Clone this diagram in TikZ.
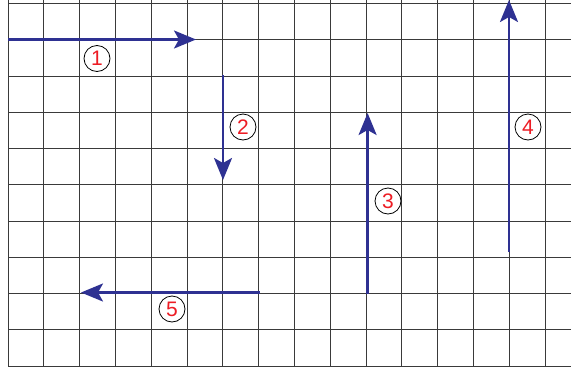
\documentclass[tikz,border=0pt]{standalone}
\usepackage{fontspec}
\setmainfont{Liberation Sans}
\usetikzlibrary{arrows.meta}
\definecolor{arrowblue}{HTML}{2E3192}
\definecolor{gridc}{HTML}{3A3A3A}
\definecolor{labred}{HTML}{ED1C24}
\tikzset{
  gridline/.style={draw=gridc, line width=0.9pt},
  movearrow/.style={draw=arrowblue, line width=2.6pt,
    -{Stealth[length=22pt, width=18pt, inset=5pt]}},
  numlabel/.style={circle, draw=black, line width=0.8pt, minimum size=26pt,
    inner sep=0pt, text=labred, font=\fontsize{21}{21}\selectfont},
}
\begin{document}
\begin{tikzpicture}[x=1pt, y=-1pt]
  \useasboundingbox[fill=white] (0,0) rectangle (571,370);
  % grid
  \foreach \k in {0,...,10} {
    \draw[gridline] (8, 3.5+36.25*\k) -- (571, 3.5+36.25*\k);
  }
  \foreach \k in {0,...,15} {
    \draw[gridline] (8+35.8*\k, 0) -- (8+35.8*\k, 366);
  }
  % arrow end points
  \coordinate (a1s) at (8,39.5);
  \coordinate (a1e) at (196,39.5);
  \coordinate (a2s) at (223,75);
  \coordinate (a2e) at (223,180);
  \coordinate (a3s) at (367.6,294);
  \coordinate (a3e) at (367.6,113);
  \coordinate (a4s) at (509,252);
  \coordinate (a4e) at (509,0);
  \coordinate (a5s) at (260,292.5);
  \coordinate (a5e) at (81,292.5);
  % arrows
  \draw[movearrow] (a1s) -- (a1e);
  \draw[movearrow] (a2s) -- (a2e);
  \draw[movearrow] (a3s) -- (a3e);
  \draw[movearrow] (a4s) -- (a4e);
  \draw[movearrow] (a5s) -- (a5e);
  % labels
  \node[numlabel] (l1) at (97,58.5) {1};
  \node[numlabel] (l2) at (243,127) {2};
  \node[numlabel] (l3) at (388,201) {3};
  \node[numlabel] (l4) at (528,127) {4};
  \node[numlabel] (l5) at (172,309) {5};
\end{tikzpicture}
\end{document}
